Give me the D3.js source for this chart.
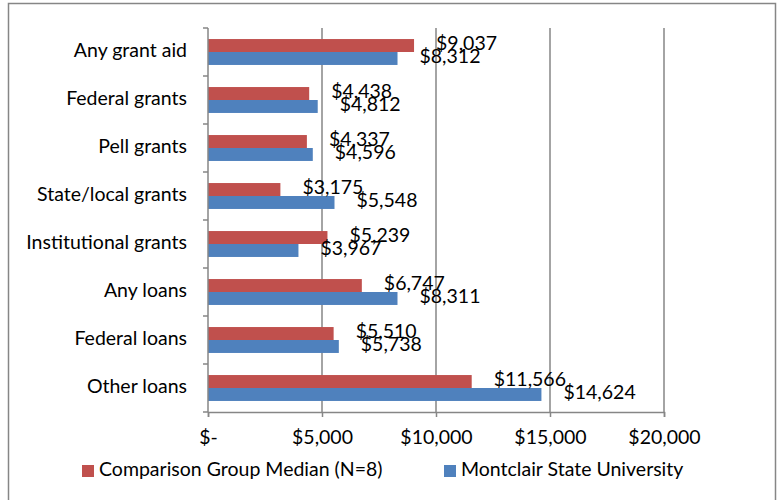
<!DOCTYPE html>
<html><head><meta charset="utf-8">
<script src="https://cdn.jsdelivr.net/npm/d3@7"></script>
<style>body{margin:0;background:#fff}</style>
</head><body>
<script>
const categories = ["Any grant aid","Federal grants","Pell grants","State/local grants","Institutional grants","Any loans","Federal loans","Other loans"];
const comparisonValues = [9037,4438,4337,3175,5239,6747,5510,11566];
const montclairValues = [8312,4812,4596,5548,3967,8311,5738,14624];
const seriesNames = ["Comparison Group Median (N=8)","Montclair State University"];
const tickValues = [0,5000,10000,15000,20000];
const tickLabels = ["$-","$5,000","$10,000","$15,000","$20,000"];

(function(){
const W=778,H=500;
const font="Lato, 'Open Sans', sans-serif";
const fs=19.5;
const grey="#868686";
const colors=["#C0504D","#4F81BD"];
const svg=d3.select("body").append("svg").attr("width",W).attr("height",H);
svg.append("rect").attr("x",8.5).attr("y",3.5).attr("width",767).attr("height",510)
  .attr("fill","#fff").attr("stroke",grey).attr("stroke-width",1.5);

const pLeft=208,pRight=664,pTop=28,pBottom=412;
const x=d3.scaleLinear().domain([0,20000]).range([pLeft,pRight]);
const y=d3.scaleBand().domain(categories).range([pTop,pBottom]).paddingInner(0.46).paddingOuter(0.23);
const sub=d3.scaleBand().domain([0,1]).range([0,y.bandwidth()]);

svg.append("g").selectAll("line").data(tickValues.slice(1)).join("line")
  .attr("x1",d=>x(d)).attr("x2",d=>x(d)).attr("y1",pTop).attr("y2",pBottom)
  .attr("stroke",grey).attr("stroke-width",1.5);

const series=[comparisonValues,montclairValues];
series.forEach((vals,si)=>{
  svg.append("g").selectAll("rect").data(vals).join("rect")
    .attr("x",x(0)).attr("y",(d,i)=>y(categories[i])+sub(si))
    .attr("width",d=>x(d)-x(0)).attr("height",sub.bandwidth())
    .attr("fill",colors[si]);
});
series.forEach((vals,si)=>{
  svg.append("g").selectAll("text").data(vals).join("text")
    .attr("x",d=>x(d)+22).attr("y",(d,i)=>y(categories[i])+sub(si)+sub.bandwidth()/2)
    .attr("dominant-baseline","middle")
    .attr("font-family",font).attr("font-size",fs).attr("fill","#000")
    .text(d=>"$"+d3.format(",")(d));
});

const xAxis=svg.append("g").attr("transform",`translate(0,${pBottom})`)
  .call(d3.axisBottom(x).tickValues(tickValues).tickFormat((d,i)=>tickLabels[i]).tickSize(5).tickPadding(13));
xAxis.select(".domain").attr("stroke",grey).attr("stroke-width",1.5);
xAxis.selectAll(".tick line").attr("stroke",grey).attr("stroke-width",1.5);
xAxis.selectAll("text").attr("font-family",font).attr("font-size",fs).attr("fill","#000");

const yTicks=d3.range(categories.length+1).map(i=>pTop+i*(pBottom-pTop)/categories.length);
svg.append("line").attr("x1",pLeft).attr("x2",pLeft).attr("y1",pTop).attr("y2",pBottom)
  .attr("stroke",grey).attr("stroke-width",1.5);
svg.append("g").selectAll("line").data(yTicks).join("line")
  .attr("x1",pLeft-5).attr("x2",pLeft).attr("y1",d=>d).attr("y2",d=>d)
  .attr("stroke",grey).attr("stroke-width",1.5);
svg.append("g").selectAll("text").data(categories).join("text")
  .attr("x",pLeft-21).attr("y",d=>y(d)+y.bandwidth()/2)
  .attr("text-anchor","end").attr("dominant-baseline","middle")
  .attr("font-family",font).attr("font-size",fs).attr("fill","#000").text(d=>d);

const legX=[82,444];
seriesNames.forEach((n,i)=>{
  svg.append("rect").attr("x",legX[i]).attr("y",465).attr("width",12).attr("height",12).attr("fill",colors[i]);
  svg.append("text").attr("x",legX[i]+17).attr("y",471).attr("dominant-baseline","middle")
    .attr("font-family",font).attr("font-size",fs).attr("fill","#000").text(n);
});
})();
</script>
</body></html>
